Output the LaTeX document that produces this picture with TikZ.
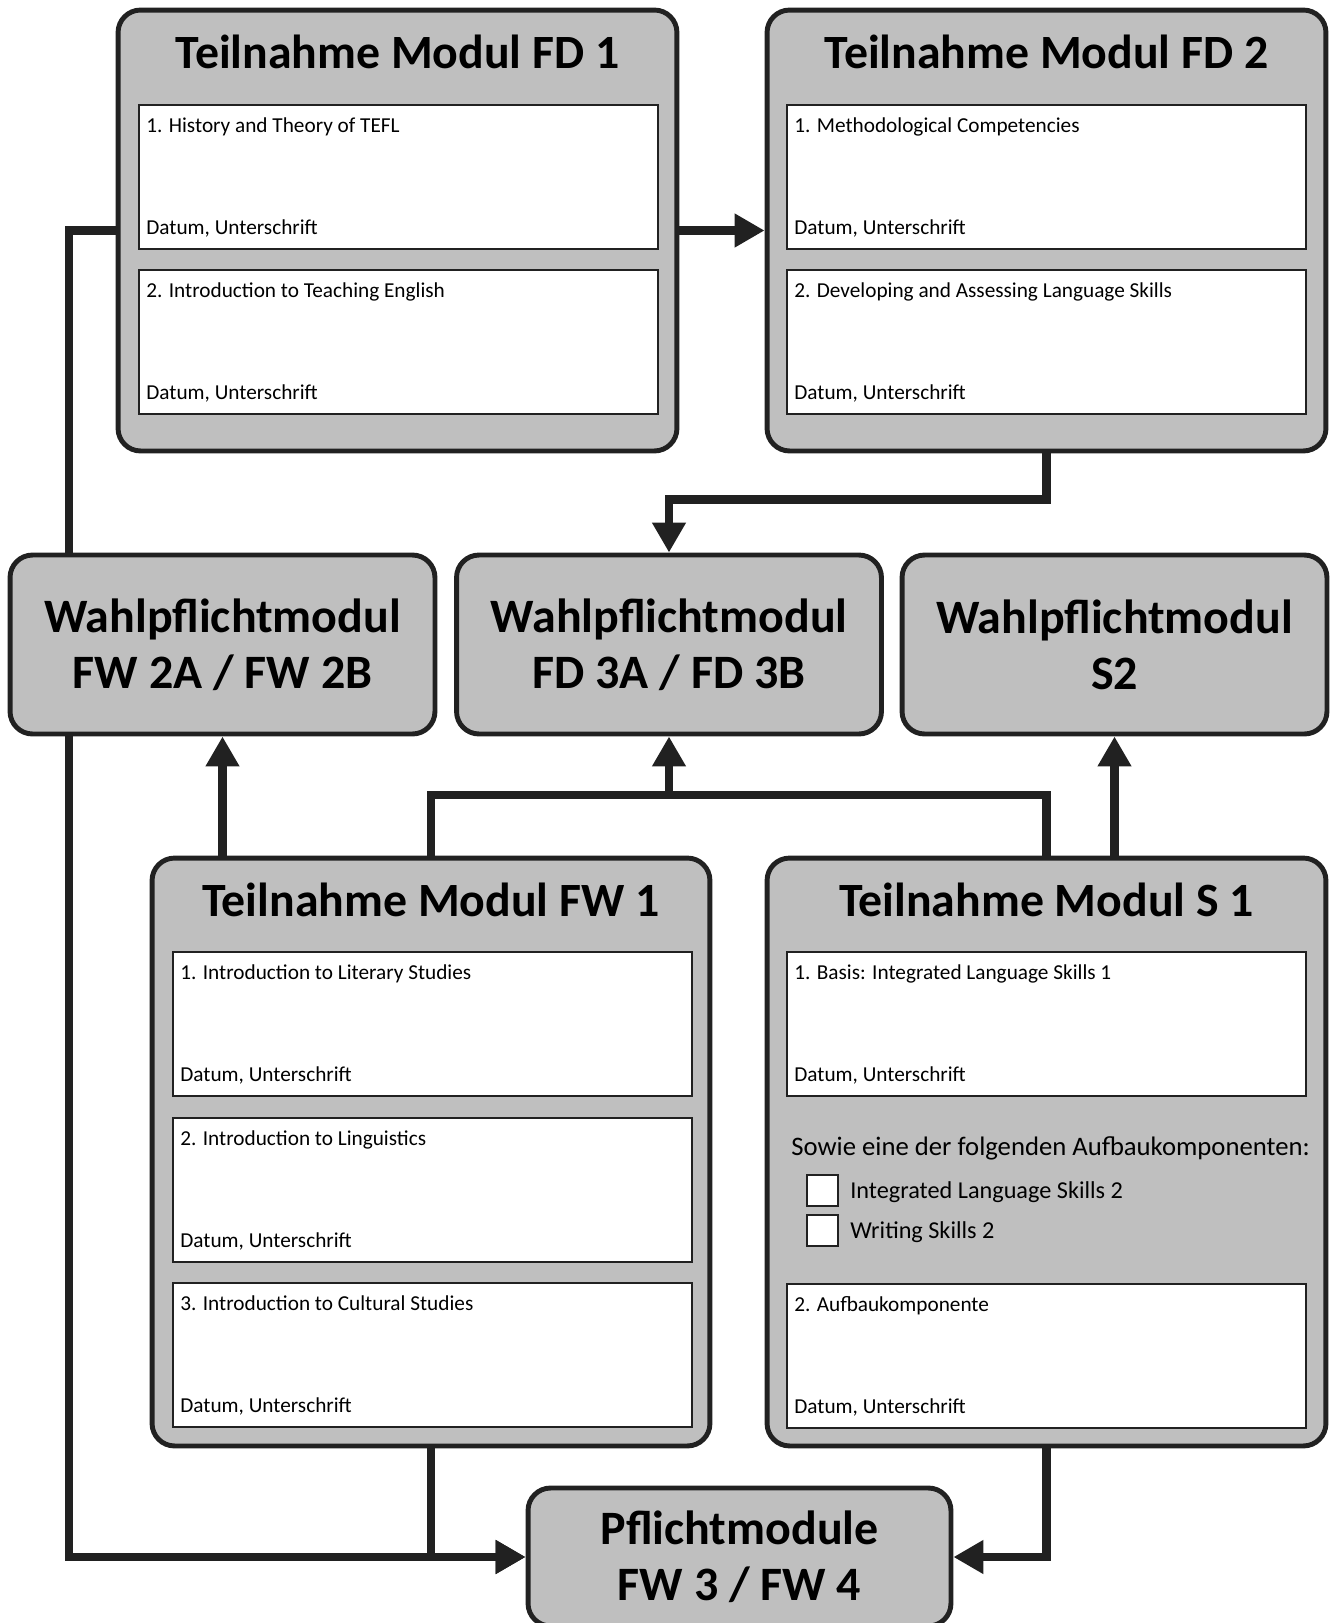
\documentclass[tikz,border=0pt]{standalone}
\usepackage{fontspec}
\setmainfont{Carlito}
\usetikzlibrary{arrows.meta}
\definecolor{kasten}{RGB}{191,191,191}
\definecolor{linie}{RGB}{33,33,33}
\tikzset{
  modbox/.style={draw=linie,fill=kasten,line width=2.8pt,rounded corners=0.45cm},
  wahlbox/.style={modbox,minimum width=8.5cm,minimum height=3.58cm,align=center,
    font=\bfseries\fontsize{27.3}{32}\selectfont},
  feldbox/.style={draw=linie,fill=white,line width=1.1pt,anchor=north west,
    minimum width=10.38cm,minimum height=2.88cm},
  checkbox/.style={draw=linie,fill=white,line width=1.1pt,minimum size=0.62cm,inner sep=0pt},
  titel/.style={font=\bfseries\fontsize{27.2}{30}\selectfont,anchor=base,inner sep=0pt},
  klein/.style={font=\fontsize{12.1}{14}\selectfont,anchor=base west,inner sep=0pt},
  mittel/.style={font=\fontsize{15.2}{17}\selectfont,anchor=base west,inner sep=0pt},
  auswahl/.style={mittel,font=\fontsize{13.8}{16}\selectfont},
  verbind/.style={draw=linie,line width=5pt},
  pfeil/.style={verbind,-{Triangle[length=0.6cm,width=0.64cm]}},
}
\newcommand{\modnode}{\node[modbox]}
\newcommand{\wahlnode}{\node[wahlbox]}
% Feld: Name, x, y (oben links), Text
\newcommand{\feld}[4]{%
  \node[feldbox] (#1) at (#2,#3) {};
  \node[klein] (#1t) at ([shift={(8,28)}]#1.north west) {#4};
  \node[klein] (#1d) at ([shift={(8,-15)}]#1.south west) {Datum, Unterschrift};
}

\begin{document}
\begin{tikzpicture}[x=0.02cm,y=-0.02cm]
  \useasboundingbox (0,0) rectangle (1334,1623);
  % obere Reihe
  \modnode[minimum width=11.18cm,minimum height=8.82cm] (fd1) at (397.5,230.5) {};
  \node[titel] (fd1n) at (397.5,68) {Teilnahme Modul FD 1};
  \feld{fd1a}{138}{104}{1. History and Theory of TEFL}
  \feld{fd1b}{138}{269}{2. Introduction to Teaching English}
  \modnode[minimum width=11.18cm,minimum height=8.82cm] (fd2) at (1046.5,230.5) {};
  \node[titel] (fd2n) at (1046.5,68) {Teilnahme Modul FD 2};
  \feld{fd2a}{786}{104}{1. Methodological Competencies}
  \feld{fd2b}{786}{269}{2. Developing and Assessing Language Skills}
  % Wahlpflicht
  \wahlnode (fw2) at (222.5,644.5) {Wahlpflichtmodul\\FW 2A / FW 2B};
  \wahlnode (fd3) at (669,644.5) {Wahlpflichtmodul\\FD 3A / FD 3B};
  \wahlnode (s2) at (1114.5,644.5) {Wahlpflichtmodul\\S2};
  % untere Reihe
  \modnode[minimum width=11.16cm,minimum height=11.76cm] (fw1) at (431,1152) {};
  \node[titel] (fw1n) at (431,916) {Teilnahme Modul FW 1};
  \feld{fw1a}{172}{951}{1. Introduction to Literary Studies}
  \feld{fw1b}{172}{1117}{2. Introduction to Linguistics}
  \feld{fw1c}{172}{1282}{3. Introduction to Cultural Studies}
  \modnode[minimum width=11.18cm,minimum height=11.76cm] (s1) at (1046.5,1152) {};
  \node[titel] (s1n) at (1046.5,916) {Teilnahme Modul S 1};
  \feld{s1a}{786}{951}{1. Basis: Integrated Language Skills 1}
  \node[mittel] (sowie) at (791,1155) {Sowie eine der folgenden Aufbaukomponenten:};
  \node[checkbox] (cb1) at (822.5,1190.5) {};
  \node[auswahl] (cb1t) at (850,1198) {Integrated Language Skills 2};
  \node[checkbox] (cb2) at (822.5,1230.5) {};
  \node[auswahl] (cb2t) at (850,1238) {Writing Skills 2};
  \feld{s1b}{786}{1283}{2. Aufbaukomponente}
  \node[wahlbox,minimum width=8.46cm,minimum height=2.76cm] (pf) at (739.5,1557) {Pflichtmodule\\FW 3 / FW 4};
  % Verbindungen
  \coordinate (lk) at (69,230.5);
  \coordinate (mk) at (669,795);
  \draw[pfeil] (fd1.east) -- (fd2.west);
  \draw[verbind] (fd1.west) -- (lk) -- (lk |- fw2.north);
  \draw[pfeil] (lk |- fw2.south) |- (pf.west);
  \draw[pfeil] (fd2.south) -- ++(0,46) -| (fd3.north);
  \draw[pfeil] (fw1.north -| fw2.south) -- (fw2.south);
  \draw[verbind] (fw1.north) |- (mk) -| (s1.north);
  \draw[pfeil] (mk) -- (fd3.south);
  \draw[pfeil] (s1.north -| s2.south) -- (s2.south);
  \draw[pfeil] (fw1.south) |- (pf.west);
  \draw[pfeil] (s1.south) |- (pf.east);
\end{tikzpicture}
\end{document}
